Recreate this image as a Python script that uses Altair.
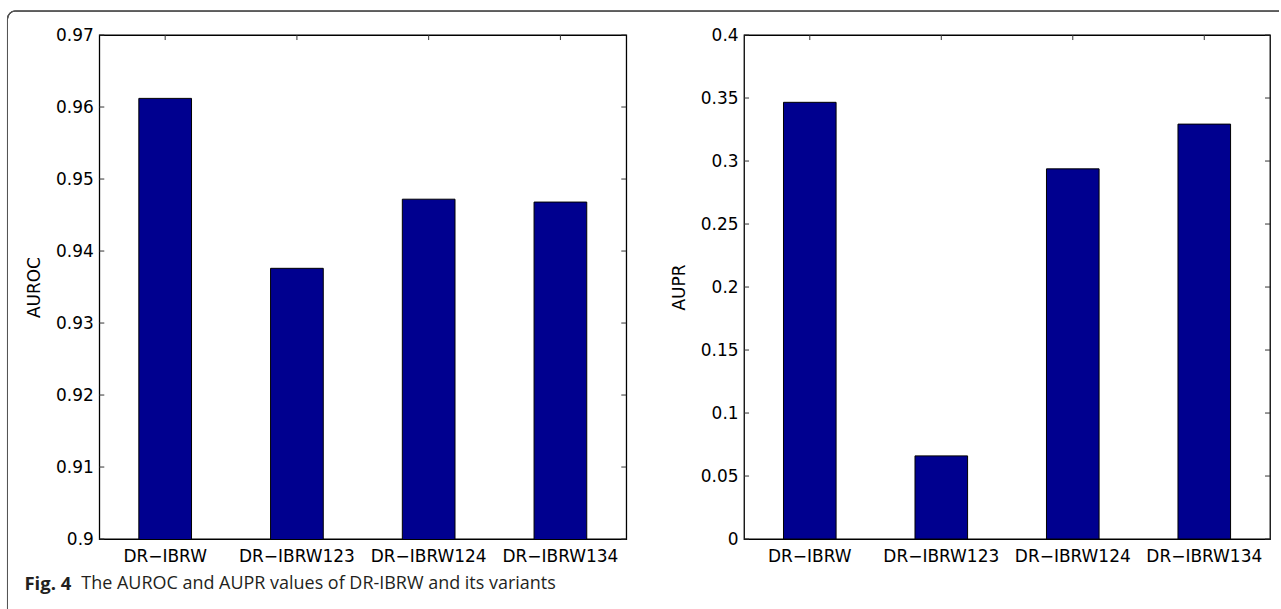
import math
import altair as alt
import pandas as pd

# ---- data ----
models = ["DR−IBRW", "DR−IBRW123", "DR−IBRW124", "DR−IBRW134"]
auroc = [0.9612, 0.9376, 0.9472, 0.9468]
aupr = [0.3466, 0.0660, 0.2938, 0.3293]
auroc_ticks = [0.90, 0.91, 0.92, 0.93, 0.94, 0.95, 0.96, 0.97]
aupr_ticks = [0.0, 0.05, 0.1, 0.15, 0.2, 0.25, 0.3, 0.35, 0.4]
caption_bold = "Fig. 4"
caption_text = "The AUROC and AUPR values of DR-IBRW and its variants"

# ---- style ----
NAVY = "#00008F"
FONT = "DejaVu Sans"
FS = 17
TICK_COLOR = "#333333"
W1, W2, H = 528, 527, 505
TK = 5

df_roc = pd.DataFrame({"model": models, "value": auroc})
df_pr = pd.DataFrame({"model": models, "value": aupr})


def panel(df, ticks, domain, title, width, zero, extra=None):
    xsc = alt.Scale(paddingInner=0.6, paddingOuter=0.3)
    ysc = alt.Scale(domain=domain, nice=False, zero=zero)
    xax = alt.Axis(title=None, labelAngle=0, ticks=False, domain=False,
                   labelPadding=10, labelFont=FONT, labelFontSize=FS,
                   labelColor="black")
    yax = alt.Axis(values=ticks, format="~g", title=title, ticks=False,
                   domain=False, grid=False, labelPadding=6,
                   labelFont=FONT, labelFontSize=FS, labelColor="black",
                   titleFont=FONT, titleFontSize=FS, titleFontWeight="normal",
                   titleColor="black", titlePadding=12)
    tdf = pd.DataFrame({"value": ticks})
    bars = alt.Chart(df).mark_bar(
        color=NAVY, stroke="black", strokeWidth=1, clip=True
    ).encode(
        x=alt.X("model:N", sort=models, scale=xsc, axis=xax),
        y=alt.Y("value:Q", scale=ysc, axis=yax),
    )
    lt = alt.Chart(tdf).mark_rule(color=TICK_COLOR, strokeWidth=1).encode(
        y=alt.Y("value:Q", scale=ysc, axis=yax), x=alt.value(0), x2=alt.value(TK))
    rt = alt.Chart(tdf).mark_rule(color=TICK_COLOR, strokeWidth=1).encode(
        y=alt.Y("value:Q", scale=ysc, axis=yax), x=alt.value(width - TK),
        x2=alt.value(width))
    tt = alt.Chart(df).mark_rule(color=TICK_COLOR, strokeWidth=1).encode(
        x=alt.X("model:N", sort=models, scale=xsc, axis=xax),
        y=alt.value(0), y2=alt.value(TK))
    layers = [bars, lt, rt, tt]
    if extra:
        layers += extra
    return alt.layer(*layers).properties(width=width, height=H)


# frame and caption (pixel positions relative to the left plot origin)
OX, OY = 98, 33
FR = "#555555"
frame_top = alt.Chart(df_roc).mark_rule(color=FR, strokeWidth=1).encode(
    x=alt.value(6 + 8 - OX), x2=alt.value(1280 - OX), y=alt.value(9 - OY))
frame_left = alt.Chart(df_roc).mark_rule(color=FR, strokeWidth=1).encode(
    x=alt.value(6 - OX), y=alt.value(9 + 8 - OY), y2=alt.value(608 - OY))
frame_arc = alt.Chart(df_roc).mark_arc(
    color=FR, innerRadius=7.5, outerRadius=8.5,
    theta=1.5 * math.pi, theta2=2 * math.pi
).encode(x=alt.value(6 + 8 - OX), y=alt.value(9 + 8 - OY))
cap1 = alt.Chart(pd.DataFrame({"t": [caption_bold]})).mark_text(
    align="left", baseline="middle", font="Open Sans", fontSize=18.5,
    fontWeight="bold", color="#231f20"
).encode(text="t:N", x=alt.value(23 - OX), y=alt.value(583 - OY))
cap2 = alt.Chart(pd.DataFrame({"t": [caption_text]})).mark_text(
    align="left", baseline="middle", font="Open Sans", fontSize=18,
    color="#231f20"
).encode(text="t:N", x=alt.value(80 - OX), y=alt.value(583 - OY))

left = panel(df_roc, auroc_ticks, [0.9, 0.97], "AUROC", W1, False,
             extra=[frame_top, frame_left, frame_arc, cap1, cap2])
right = panel(df_pr, aupr_ticks, [0.0, 0.4], "AUPR", W2, True)

chart = alt.hconcat(left, right, spacing=744 - 626, bounds="flush").properties(
    padding={"left": 5.5, "top": 8.5, "right": 0, "bottom": 0},
    background="white",
).configure_view(stroke="black", strokeWidth=1.3)

chart.save("out.html", embed_options={"renderer": "svg", "actions": False})
